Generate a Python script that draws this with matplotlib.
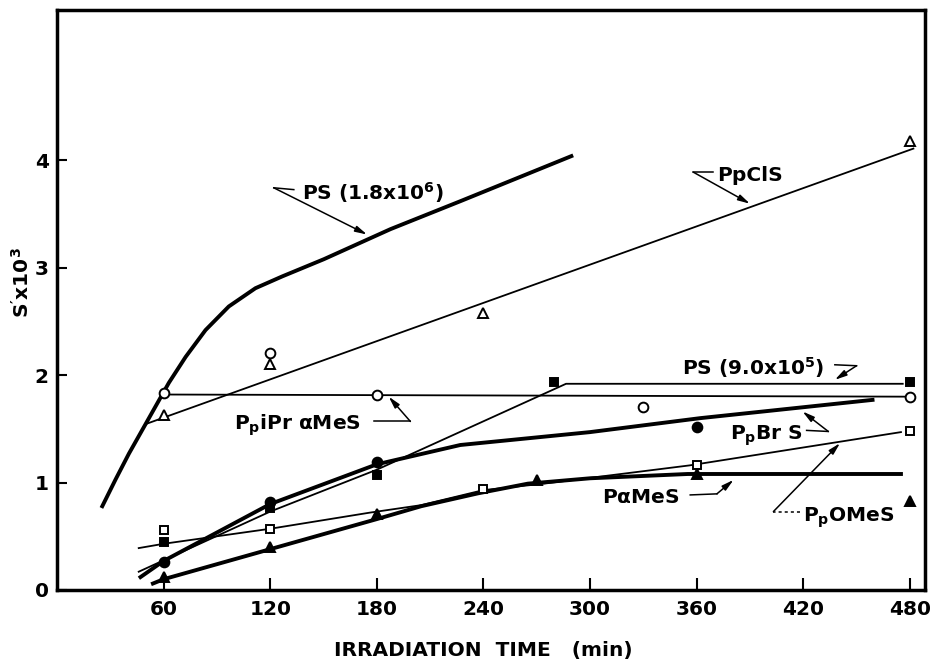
import matplotlib
matplotlib.use("Agg")
import matplotlib.pyplot as plt

plt.rcParams['font.family'] = ['DejaVu Sans']
plt.rcParams['font.weight'] = 'bold'
plt.rcParams['axes.labelweight'] = 'bold'
plt.rcParams['mathtext.default'] = 'regular'

FS = 14.5

# curves (min, S' x 10^3)
ps18_x = [25.5, 33.0, 40.5, 48.0, 55.5, 63.0, 72.4, 83.6, 96.7, 111.7, 126.8, 150.2, 187.7, 227, 289.5]
ps18_y = [0.78, 1.03, 1.27, 1.49, 1.71, 1.93, 2.17, 2.42, 2.64, 2.81, 2.92, 3.08, 3.36, 3.62, 4.04]

pcls_x = [50.8, 482]
pcls_y = [1.55, 4.11]
pcls_px = [60, 120, 240, 480]
pcls_py = [1.63, 2.10, 2.58, 4.18]

pipr_x = [60, 480]
pipr_y = [1.82, 1.80]
pipr_px = [60, 120, 180, 330, 480]
pipr_py = [1.83, 2.21, 1.82, 1.70, 1.80]

ps90_x = [46, 120, 180, 286.5, 476]
ps90_y = [0.17, 0.73, 1.12, 1.92, 1.92]
ps90_px = [60, 120, 180, 280, 480]
ps90_py = [0.45, 0.76, 1.07, 1.94, 1.94]

pbrs_x = [47, 60, 120, 180, 227, 300, 362, 459]
pbrs_y = [0.12, 0.27, 0.80, 1.17, 1.35, 1.47, 1.60, 1.77]
pbrs_px = [60, 120, 180, 360]
pbrs_py = [0.26, 0.82, 1.19, 1.52]

pome_x = [46, 60, 120, 176, 205, 240, 274, 356, 475]
pome_y = [0.39, 0.43, 0.57, 0.72, 0.79, 0.93, 0.99, 1.16, 1.47]
pome_px = [60, 120, 240, 360, 480]
pome_py = [0.56, 0.57, 0.94, 1.16, 1.48]

pams_x = [54, 60, 120, 180, 205, 237, 265, 300, 355, 475]
pams_y = [0.06, 0.10, 0.38, 0.66, 0.78, 0.90, 0.99, 1.04, 1.08, 1.08]
pams_px = [60, 120, 180, 270, 360, 480]
pams_py = [0.12, 0.40, 0.71, 1.02, 1.08, 0.83]

xticks = [60, 120, 180, 240, 300, 360, 420, 480]
yticks = [0, 1, 2, 3, 4]

fig = plt.figure(figsize=(9.31, 6.62), dpi=100)
ax = fig.add_axes([0.0612, 0.1088, 0.9323, 0.876])

THICK = 2.8
THIN = 1.3

ax.plot(ps18_x, ps18_y, color='k', lw=THICK)
ax.plot(pcls_x, pcls_y, color='k', lw=THIN)
ax.plot(pipr_x, pipr_y, color='k', lw=THIN)
ax.plot(ps90_x, ps90_y, color='k', lw=THIN)
ax.plot(pbrs_x, pbrs_y, color='k', lw=THICK)
ax.plot(pome_x, pome_y, color='k', lw=THIN)
ax.plot(pams_x, pams_y, color='k', lw=THICK)

mk = dict(ls='none', color='k', mew=1.4, zorder=5)
ax.plot(pcls_px, pcls_py, marker='^', ms=6.5, mfc='white', **mk)
ax.plot(pipr_px, pipr_py, marker='o', ms=7, mfc='white', **mk)
ax.plot(ps90_px, ps90_py, marker='s', ms=6, mfc='k', **mk)
ax.plot(pbrs_px, pbrs_py, marker='o', ms=7, mfc='k', **mk)
ax.plot(pome_px, pome_py, marker='s', ms=6, mfc='white', **mk)
ax.plot(pams_px, pams_py, marker='^', ms=7, mfc='k', **mk)

# labels with kinked leader + arrow
def label(text, txy, seg, tip, ls='-'):
    ax.text(txy[0], txy[1], text, fontsize=FS, ha='left', va='baseline')
    ax.plot([seg[0][0], seg[1][0]], [seg[0][1], seg[1][1]], color='k', lw=1.1, ls=ls)
    ax.annotate('', xy=tip, xytext=seg[1],
                arrowprops=dict(arrowstyle='-|>,head_length=0.7,head_width=0.18',
                                color='k', lw=1.1, shrinkA=0, shrinkB=0))

label('PS (1.8x10$^6$)', (138, 3.635), [(133.3, 3.728), (122, 3.745)], (174.5, 3.31))
label('PpClS', (371.3, 3.805), [(369.4, 3.89), (358.2, 3.89)], (390, 3.597))
label('PS (9.0x10$^5$)', (351.6, 2.004), [(437.8, 2.097), (450, 2.088)], (437.8, 1.957))
label('P$_p$iPr $\\alpha$MeS', (99.6, 1.491), [(178.3, 1.569), (198.9, 1.569)], (186.7, 1.80))
label('P$_p$Br S', (378.9, 1.398), [(421.9, 1.486), (434.1, 1.476)], (419.6, 1.662))
label('P$\\alpha$MeS', (306.7, 0.808), [(356.4, 0.885), (371.4, 0.895)], (380.8, 1.025))
label('P$_p$OMeS', (420, 0.637), [(418.2, 0.73), (403.2, 0.73)], (440.7, 1.367), ls=(0, (2, 2)))

ax.set_xlim(0, 488.5)
ax.set_ylim(0, 5.4)
ax.set_xticks(xticks)
ax.set_yticks(yticks)
ax.tick_params(direction='in', width=1.5, labelsize=FS)
ax.tick_params(axis='x', length=9, pad=7)
ax.tick_params(axis='y', length=7, pad=6)
for s in ax.spines.values():
    s.set_linewidth(2.5)

ax.set_xlabel('IRRADIATION  TIME   (min)', fontsize=FS, va='center')
ax.xaxis.set_label_coords(0.491, -0.105)
ax.set_ylabel("S$'$x10$^3$", fontsize=FS, va='center')
ax.yaxis.set_label_coords(-0.041, 0.53)

fig.savefig('out.png', dpi=100)
